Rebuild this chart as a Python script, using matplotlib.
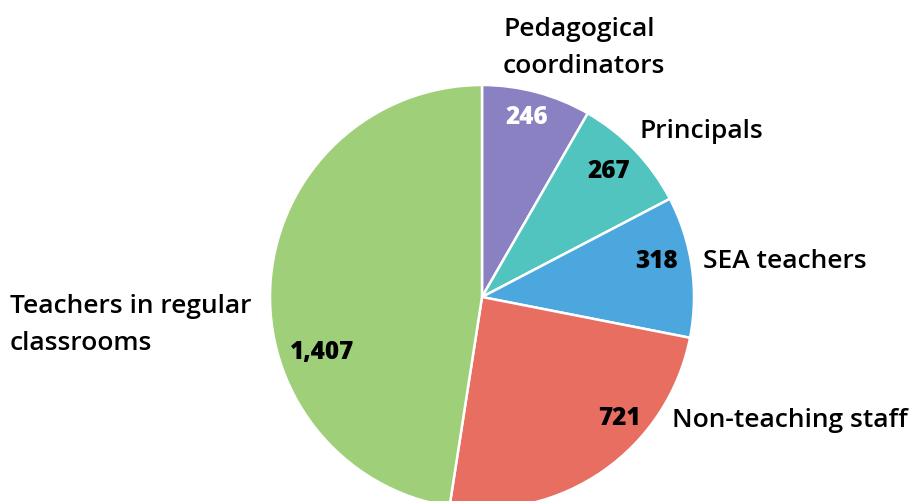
import matplotlib.pyplot as plt

# ── data (clockwise from 12 o'clock) ──────────────────────────────────────────
categories = [
    "Pedagogical\ncoordinators",
    "Principals",
    "SEA teachers",
    "Non-teaching staff",
    "Teachers in regular\nclassrooms",
]
values = [246, 267, 318, 721, 1407]
value_labels = ["246", "267", "318", "721", "1,407"]
colors = ["#8981c1", "#52c4c0", "#4da7df", "#e86e62", "#a0cf79"]
value_colors = ["white", "black", "black", "black", "black"]

# ── layout (figure pixels, y measured from bottom) ────────────────────────────
W, H = 911, 502
CENTER = (482, 204)
RADIUS = 212
VALUE_POS = [(527, 384), (609, 330), (656, 240), (619, 83), (322, 150)]
CAT_POS = [(503, 454), (640, 371), (703, 241), (672, 81), (10, 177)]

fig = plt.figure(figsize=(W / 100, H / 100), dpi=100)
ax = fig.add_axes([0, 0, 1, 1])

ax.pie(
    values,
    colors=colors,
    startangle=90,
    counterclock=False,
    center=CENTER,
    radius=RADIUS,
    wedgeprops=dict(edgecolor="white", linewidth=1.8),
    frame=True,
)
ax.set_xlim(0, W)
ax.set_ylim(0, H)
ax.set_aspect("equal")
ax.axis("off")

for lab, col, (x, y) in zip(value_labels, value_colors, VALUE_POS):
    ax.text(x, y, lab, color=col, fontsize=17.5, fontweight="heavy",
            family="Open Sans", ha="center", va="center")

for cat, (x, y) in zip(categories, CAT_POS):
    ax.text(x, y, cat, color="black", fontsize=19, fontweight="semibold",
            family="Open Sans", ha="left", va="center", linespacing=1.6)

fig.savefig("out.png", dpi=100)
